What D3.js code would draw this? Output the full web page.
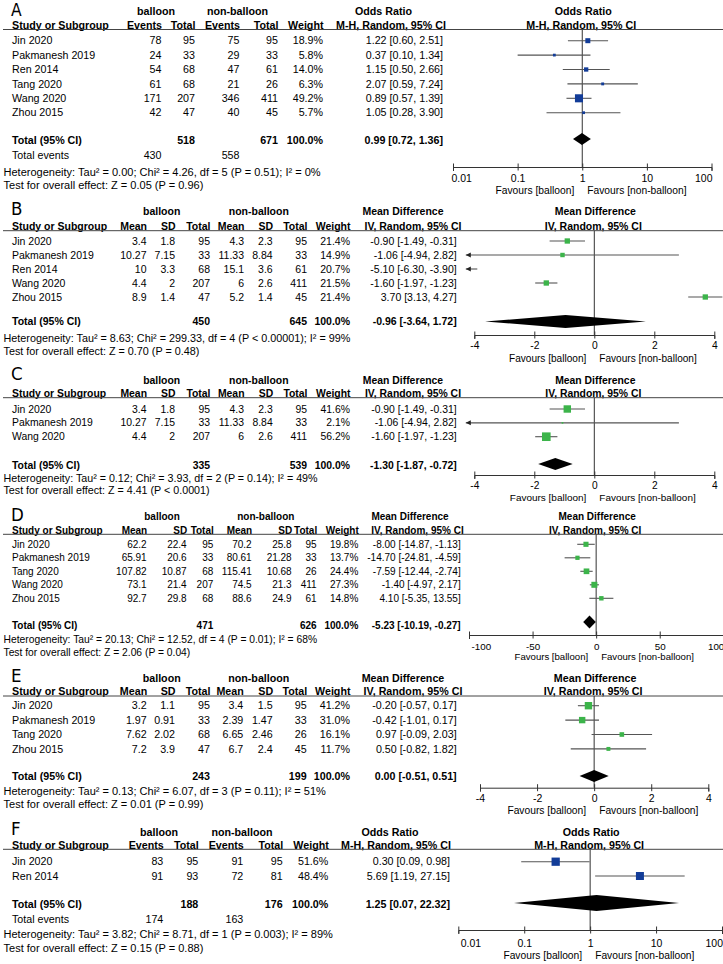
<!DOCTYPE html>
<html>
<head>
<meta charset="utf-8">
<script src="https://cdn.jsdelivr.net/npm/d3@7"></script>
<style>
  body { margin: 0; background: #fff; }
  svg text { font-family: "Liberation Sans", Arial, sans-serif; fill: #000; }
  svg text.letter { font-family: "Liberation Sans Narrow", "DejaVu Sans Condensed", sans-serif; }
</style>
</head>
<body>
<svg id="chart" width="723" height="964"></svg>
<script>
// --- A: odds ratio ---
const studiesA = ["Jin 2020", "Pakmanesh 2019", "Ren 2014", "Tang 2020", "Wang 2020", "Zhou 2015"];
const evBalA = [78, 24, 54, 61, 171, 42];
const totBalA = [95, 33, 68, 68, 207, 47];
const evNonA = [75, 29, 47, 21, 346, 40];
const totNonA = [95, 33, 61, 26, 411, 45];
const weightA = [18.9, 5.8, 14.0, 6.3, 49.2, 5.7];
const estA = [1.22, 0.37, 1.15, 2.07, 0.89, 1.05];
const loA = [0.60, 0.10, 0.50, 0.59, 0.57, 0.28];
const hiA = [2.51, 1.34, 2.66, 7.24, 1.39, 3.90];
const pooledA = [0.99, 0.72, 1.36];
const totalsA = [518, 671];
const totalEventsA = [430, 558];
const hetA = "Heterogeneity: Tau² = 0.00; Chi² = 4.26, df = 5 (P = 0.51); I² = 0%";
const testA = "Test for overall effect: Z = 0.05 (P = 0.96)";

// --- B: mean difference ---
const studiesB = ["Jin 2020", "Pakmanesh 2019", "Ren 2014", "Wang 2020", "Zhou 2015"];
const meanBalB = [3.4, 10.27, 10, 4.4, 8.9];
const sdBalB = [1.8, 7.15, 3.3, 2, 1.4];
const nBalB = [95, 33, 68, 207, 47];
const meanNonB = [4.3, 11.33, 15.1, 6, 5.2];
const sdNonB = [2.3, 8.84, 3.6, 2.6, 1.4];
const nNonB = [95, 33, 61, 411, 45];
const weightB = [21.4, 14.9, 20.7, 21.5, 21.4];
const estB = [-0.90, -1.06, -5.10, -1.60, 3.70];
const loB = [-1.49, -4.94, -6.30, -1.97, 3.13];
const hiB = [-0.31, 2.82, -3.90, -1.23, 4.27];
const pooledB = [-0.96, -3.64, 1.72];
const totalsB = [450, 645];
const hetB = "Heterogeneity: Tau² = 8.63; Chi² = 299.33, df = 4 (P < 0.00001); I² = 99%";
const testB = "Test for overall effect: Z = 0.70 (P = 0.48)";

// --- C ---
const studiesC = ["Jin 2020", "Pakmanesh 2019", "Wang 2020"];
const meanBalC = [3.4, 10.27, 4.4];
const sdBalC = [1.8, 7.15, 2];
const nBalC = [95, 33, 207];
const meanNonC = [4.3, 11.33, 6];
const sdNonC = [2.3, 8.84, 2.6];
const nNonC = [95, 33, 411];
const weightC = [41.6, 2.1, 56.2];
const estC = [-0.90, -1.06, -1.60];
const loC = [-1.49, -4.94, -1.97];
const hiC = [-0.31, 2.82, -1.23];
const pooledC = [-1.30, -1.87, -0.72];
const totalsC = [335, 539];
const hetC = "Heterogeneity: Tau² = 0.12; Chi² = 3.93, df = 2 (P = 0.14); I² = 49%";
const testC = "Test for overall effect: Z = 4.41 (P < 0.0001)";

// --- D ---
const studiesD = ["Jin 2020", "Pakmanesh 2019", "Tang 2020", "Wang 2020", "Zhou 2015"];
const meanBalD = [62.2, 65.91, 107.82, 73.1, 92.7];
const sdBalD = [22.4, 20.6, 10.87, 21.4, 29.8];
const nBalD = [95, 33, 68, 207, 68];
const meanNonD = [70.2, 80.61, 115.41, 74.5, 88.6];
const sdNonD = [25.8, 21.28, 10.68, 21.3, 24.9];
const nNonD = [95, 33, 26, 411, 61];
const weightD = [19.8, 13.7, 24.4, 27.3, 14.8];
const estD = [-8.00, -14.70, -7.59, -1.40, 4.10];
const loD = [-14.87, -24.81, -12.44, -4.97, -5.35];
const hiD = [-1.13, -4.59, -2.74, 2.17, 13.55];
const pooledD = [-5.23, -10.19, -0.27];
const totalsD = [471, 626];
const hetD = "Heterogeneity: Tau² = 20.13; Chi² = 12.52, df = 4 (P = 0.01); I² = 68%";
const testD = "Test for overall effect: Z = 2.06 (P = 0.04)";

// --- E ---
const studiesE = ["Jin 2020", "Pakmanesh 2019", "Tang 2020", "Zhou 2015"];
const meanBalE = [3.2, 1.97, 7.62, 7.2];
const sdBalE = [1.1, 0.91, 2.02, 3.9];
const nBalE = [95, 33, 68, 47];
const meanNonE = [3.4, 2.39, 6.65, 6.7];
const sdNonE = [1.5, 1.47, 2.46, 2.4];
const nNonE = [95, 33, 26, 45];
const weightE = [41.2, 31.0, 16.1, 11.7];
const estE = [-0.20, -0.42, 0.97, 0.50];
const loE = [-0.57, -1.01, -0.09, -0.82];
const hiE = [0.17, 0.17, 2.03, 1.82];
const pooledE = [0.00, -0.51, 0.51];
const totalsE = [243, 199];
const hetE = "Heterogeneity: Tau² = 0.13; Chi² = 6.07, df = 3 (P = 0.11); I² = 51%";
const testE = "Test for overall effect: Z = 0.01 (P = 0.99)";

// --- F: odds ratio ---
const studiesF = ["Jin 2020", "Ren 2014"];
const evBalF = [83, 91];
const totBalF = [95, 93];
const evNonF = [91, 72];
const totNonF = [95, 81];
const weightF = [51.6, 48.4];
const estF = [0.30, 5.69];
const loF = [0.09, 1.19];
const hiF = [0.98, 27.15];
const pooledF = [1.25, 0.07, 22.32];
const totalsF = [188, 176];
const totalEventsF = [174, 163];
const hetF = "Heterogeneity: Tau² = 3.82; Chi² = 8.71, df = 1 (P = 0.003); I² = 89%";
const testF = "Test for overall effect: Z = 0.15 (P = 0.88)";

// tick labels
const orTicks = [0.01, 0.1, 1, 10, 100];
const mdTicks = [-4, -2, 0, 2, 4];
const mdTicksD = [-100, -50, 0, 50, 100];

const binHeads = ["Events", "Total", "Events", "Total", "Weight"];
const contHeads = ["Mean", "SD", "Total", "Mean", "SD", "Total", "Weight"];

// --- helpers ---
const fmt2 = d3.formatLocale({ decimal: ".", thousands: ",", grouping: [3], currency: ["", ""], minus: "-" }).format(".2f");
const fmtW = v => d3.format(".1f")(v) + "%";
const raw = v => String(v);
const sqSize = d3.scaleSqrt().domain([0, 100]).range([0, 11.5]);

const svg = d3.select("#chart");

function txt(g, x, y, s, anchor, weight, size) {
  return g.append("text")
    .attr("x", x).attr("y", y).attr("dy", "0.35em")
    .attr("text-anchor", anchor || "start")
    .attr("font-weight", weight || "normal")
    .attr("font-size", size)
    .text(s);
}

function drawPanel(p) {
  const g = svg.append("g");
  const x = p.x;
  const y = d3.scaleLinear().domain([0, 1]).range([p.row0, p.row0 + p.step]);
  const binary = p.cols.length === 5;
  const nullX = x(p.nullVal);
  const [r0, r1] = x.range();
  const clipL = r0 - 8.5, clipR = r1 + 8.5;
  const fs = p.fs, fsNote = p.fs * 1.03;

  g.append("text").attr("class", "letter")
    .attr("x", 11).attr("y", p.letterY)
    .attr("font-size", p.letterSize)
    .text(p.letter);

  // headers
  txt(g, p.grp[0], p.h1, "balloon", "middle", "bold", fs);
  txt(g, p.grp[1], p.h1, "non-balloon", "middle", "bold", fs);
  txt(g, p.effHead[0], p.h1, p.effName, "middle", "bold", fs);
  txt(g, nullX + 1, p.h1, p.effName, "middle", "bold", fs);
  txt(g, 12, p.h2, "Study or Subgroup", "start", "bold", fs);
  p.heads.forEach((h, j) => txt(g, p.colX[j] + 0.5, p.h2, h, "end", "bold", fs));
  txt(g, p.effHead[1], p.h2, p.method, "middle", "bold", fs);
  txt(g, nullX - 1, p.h2, p.method, "middle", "bold", fs);

  g.append("line")
    .attr("x1", 3).attr("x2", 723)
    .attr("y1", p.lineY).attr("y2", p.lineY)
    .attr("stroke", "#444").attr("stroke-width", 1);

  // study rows
  p.studies.forEach((s, i) => {
    txt(g, 12, y(i), s, "start", "normal", fs);
    p.cols.forEach((arr, j) => txt(g, p.colX[j], y(i), p.fmts[j](arr[i]), "end", "normal", fs));
    txt(g, p.textEnd, y(i), `${fmt2(p.est[i])} [${fmt2(p.lo[i])}, ${fmt2(p.hi[i])}]`, "end", "normal", fs);
  });

  // totals
  const ti = binary ? [1, 3, 4] : [2, 5, 6];
  txt(g, 12, p.totalY, "Total (95% CI)", "start", "bold", fs);
  txt(g, p.colX[ti[0]], p.totalY, p.totals[0], "end", "bold", fs);
  txt(g, p.colX[ti[1]], p.totalY, p.totals[1], "end", "bold", fs);
  txt(g, p.colX[ti[2]], p.totalY, "100.0%", "end", "bold", fs);
  txt(g, p.textEnd, p.totalY, `${fmt2(p.pooled[0])} [${fmt2(p.pooled[1])}, ${fmt2(p.pooled[2])}]`, "end", "bold", fs);
  if (p.totalEvents) {
    txt(g, 12, p.eventsY, "Total events", "start", "normal", fs);
    txt(g, p.colX[0], p.eventsY, p.totalEvents[0], "end", "normal", fs);
    txt(g, p.colX[2], p.eventsY, p.totalEvents[1], "end", "normal", fs);
  }
  txt(g, 3.5, p.hetY, p.het, "start", "normal", fsNote);
  txt(g, 3.5, p.testY, p.test, "start", "normal", fsNote);

  // plot: null line
  g.append("line")
    .attr("x1", nullX).attr("x2", nullX)
    .attr("y1", p.lineY).attr("y2", p.axisY)
    .attr("stroke", "#333").attr("stroke-width", 1);

  // CI lines, arrows, squares
  p.studies.forEach((s, i) => {
    const yy = y(i);
    const xl = Math.max(x(p.lo[i]), clipL);
    const xr = Math.min(x(p.hi[i]), clipR);
    g.append("line")
      .attr("x1", xl).attr("x2", xr).attr("y1", yy).attr("y2", yy)
      .attr("stroke", "#555").attr("stroke-width", 1.1);
    if (x(p.lo[i]) < clipL) {
      g.append("path")
        .attr("d", `M${clipL},${yy}L${clipL + 5},${yy - 2.5}L${clipL + 5},${yy + 2.5}Z`)
        .attr("fill", "#222");
    }
    if (x(p.hi[i]) > clipR) {
      g.append("path")
        .attr("d", `M${clipR},${yy}L${clipR - 5},${yy - 2.5}L${clipR - 5},${yy + 2.5}Z`)
        .attr("fill", "#222");
    }
    const cx = x(p.est[i]);
    if (cx >= clipL && cx <= clipR) {
      const sz = Math.max(sqSize(p.weight[i]), 1.5);
      g.append("rect")
        .attr("x", cx - sz / 2).attr("y", yy - sz / 2)
        .attr("width", sz).attr("height", sz)
        .attr("fill", p.color);
    }
  });

  // diamond
  const dy = p.diamondY;
  const dh = p.diamondH;
  g.append("path")
    .attr("d", `M${x(p.pooled[1])},${dy}L${x(p.pooled[0])},${dy - dh}L${x(p.pooled[2])},${dy}L${x(p.pooled[0])},${dy + dh}Z`)
    .attr("fill", "#000");

  // axis
  const axG = g.append("g")
    .attr("transform", `translate(0,${p.axisY})`)
    .call(d3.axisBottom(x).tickValues(p.ticks).tickFormat(raw).tickSizeOuter(0).tickSize(4));
  axG.attr("font-family", null).attr("font-size", fs * 0.98);
  axG.select(".domain").attr("stroke", "#333");
  axG.selectAll(".tick line").attr("y1", -3.5).attr("y2", 3.5).attr("stroke", "#333");
  const labels = axG.selectAll(".tick text").attr("y", p.tickLabelDy).attr("dy", "0.35em").attr("fill", "#000");
  if (p.endAnchor) {
    labels.filter((d, i) => i === 0).attr("text-anchor", "start").attr("x", p.firstDx);
    labels.filter((d, i) => i === p.ticks.length - 1).attr("text-anchor", "end").attr("x", 0.5);
  }
  txt(g, nullX - 8, p.axisY + p.favDy, "Favours [balloon]", "end", "normal", fs * 0.96);
  txt(g, nullX + 5, p.axisY + p.favDy, "Favours [non-balloon]", "start", "normal", fs * 0.96);
}

const blue = "#123c98";
const green = "#3cb44a";

drawPanel({
  letter: "A", letterY: 15.8, letterSize: 17.3, fs: 10.7,
  h1: 11, h2: 25, lineY: 29.5, row0: 40.7, step: 14.4,
  totalY: 140.7, eventsY: 155.7, hetY: 171.7, testY: 185, axisY: 167,
  diamondY: 139, diamondH: 6,
  studies: studiesA,
  cols: [evBalA, totBalA, evNonA, totNonA, weightA],
  fmts: [raw, raw, raw, raw, fmtW],
  heads: binHeads,
  colX: [161.5, 195, 239.5, 278, 323],
  textEnd: 443, grp: [156, 237.5], effHead: [383.5, 391],
  effName: "Odds Ratio", method: "M-H, Random, 95% CI",
  est: estA, lo: loA, hi: hiA, weight: weightA, pooled: pooledA,
  totals: totalsA, totalEvents: totalEventsA, het: hetA, test: testA,
  x: d3.scaleLog().domain([0.01, 100]).range([453, 711.5]), nullVal: 1,
  ticks: orTicks, endAnchor: true, firstDx: -2, tickLabelDy: 11.5, favDy: 23,
  color: blue
});

drawPanel({
  letter: "B", letterY: 215, letterSize: 18.5, fs: 10.5,
  h1: 211.7, h2: 226, lineY: 230.7, row0: 241, step: 14,
  totalY: 321.7, hetY: 338.3, testY: 351.7, axisY: 335,
  diamondY: 321.5, diamondH: 6.5,
  studies: studiesB,
  cols: [meanBalB, sdBalB, nBalB, meanNonB, sdNonB, nNonB, weightB],
  fmts: [raw, raw, raw, raw, raw, raw, fmtW],
  heads: contHeads,
  colX: [146.5, 175, 210, 244, 272.7, 307, 350],
  textEnd: 456.7, grp: [161.7, 258.8], effHead: [403, 413],
  effName: "Mean Difference", method: "IV, Random, 95% CI",
  est: estB, lo: loB, hi: hiB, weight: weightB, pooled: pooledB,
  totals: totalsB, het: hetB, test: testB,
  x: d3.scaleLinear().domain([-4, 4]).range([474.3, 714.3]), nullVal: 0,
  ticks: mdTicks, endAnchor: false, tickLabelDy: 10.5, favDy: 23,
  color: green
});

drawPanel({
  letter: "C", letterY: 380, letterSize: 18.5, fs: 10.4,
  h1: 380, h2: 393.3, lineY: 397.7, row0: 409, step: 13.85,
  totalY: 465, hetY: 478, testY: 490, axisY: 475,
  diamondY: 464, diamondH: 6,
  studies: studiesC,
  cols: [meanBalC, sdBalC, nBalC, meanNonC, sdNonC, nNonC, weightC],
  fmts: [raw, raw, raw, raw, raw, raw, fmtW],
  heads: contHeads,
  colX: [146.5, 175, 210, 244, 272.7, 307, 350],
  textEnd: 456.7, grp: [161.7, 258.8], effHead: [403, 413],
  effName: "Mean Difference", method: "IV, Random, 95% CI",
  est: estC, lo: loC, hi: hiC, weight: weightC, pooled: pooledC,
  totals: totalsC, het: hetC, test: testC,
  x: d3.scaleLinear().domain([-4, 4]).range([474.3, 714.3]), nullVal: 0,
  ticks: mdTicks, endAnchor: false, tickLabelDy: 10.5, favDy: 22.5,
  color: green
});

drawPanel({
  letter: "D", letterY: 521, letterSize: 18.5, fs: 10,
  h1: 516.7, h2: 530.7, lineY: 534.3, row0: 544.3, step: 13.5,
  totalY: 625, hetY: 639.3, testY: 652.7, axisY: 635,
  diamondY: 622, diamondH: 6.5,
  studies: studiesD,
  cols: [meanBalD, sdBalD, nBalD, meanNonD, sdNonD, nNonD, weightD],
  fmts: [raw, raw, raw, raw, raw, raw, fmtW],
  heads: contHeads,
  colX: [146.7, 186.7, 213.3, 251.7, 291.7, 316.7, 358.3],
  textEnd: 460.7, grp: [162, 265.8], effHead: [410, 417.5],
  effName: "Mean Difference", method: "IV, Random, 95% CI",
  est: estD, lo: loD, hi: hiD, weight: weightD, pooled: pooledD,
  totals: totalsD, het: hetD, test: testD,
  x: d3.scaleLinear().domain([-100, 100]).range([469, 723.3]), nullVal: 0,
  ticks: mdTicksD, endAnchor: true, firstDx: 2, tickLabelDy: 11.5, favDy: 22,
  color: green
});

drawPanel({
  letter: "E", letterY: 681.5, letterSize: 18.5, fs: 10.7,
  h1: 678.3, h2: 691.7, lineY: 696, row0: 705.7, step: 14.4,
  totalY: 776.7, hetY: 791, testY: 804.3, axisY: 787.7,
  diamondY: 776, diamondH: 6,
  studies: studiesE,
  cols: [meanBalE, sdBalE, nBalE, meanNonE, sdNonE, nNonE, weightE],
  fmts: [raw, raw, raw, raw, raw, raw, fmtW],
  heads: contHeads,
  colX: [146.7, 175, 210, 243.3, 272.7, 306.7, 350],
  textEnd: 456.7, grp: [161.7, 258.8], effHead: [403, 413],
  effName: "Mean Difference", method: "IV, Random, 95% CI",
  est: estE, lo: loE, hi: hiE, weight: weightE, pooled: pooledE,
  totals: totalsE, het: hetE, test: testE,
  x: d3.scaleLinear().domain([-4, 4]).range([480, 708.3]), nullVal: 0,
  ticks: mdTicks, endAnchor: false, tickLabelDy: 10.5, favDy: 23,
  color: green
});

drawPanel({
  letter: "F", letterY: 835.2, letterSize: 18.5, fs: 10.7,
  h1: 832, h2: 845, lineY: 849.3, row0: 861.7, step: 14.3,
  totalY: 904, eventsY: 919.3, hetY: 934, testY: 948.3, axisY: 930,
  diamondY: 903, diamondH: 8,
  studies: studiesF,
  cols: [evBalF, totBalF, evNonF, totNonF, weightF],
  fmts: [raw, raw, raw, raw, fmtW],
  heads: binHeads,
  colX: [163.3, 198.3, 243.3, 282.7, 328.3],
  textEnd: 450, grp: [159, 242], effHead: [390, 396],
  effName: "Odds Ratio", method: "M-H, Random, 95% CI",
  est: estF, lo: loF, hi: hiF, weight: weightF, pooled: pooledF,
  totals: totalsF, totalEvents: totalEventsF, het: hetF, test: testF,
  x: d3.scaleLog().domain([0.01, 100]).range([458.3, 722]), nullVal: 1,
  ticks: orTicks, endAnchor: true, firstDx: 2, tickLabelDy: 13, favDy: 25,
  color: blue
});
</script>
</body>
</html>
